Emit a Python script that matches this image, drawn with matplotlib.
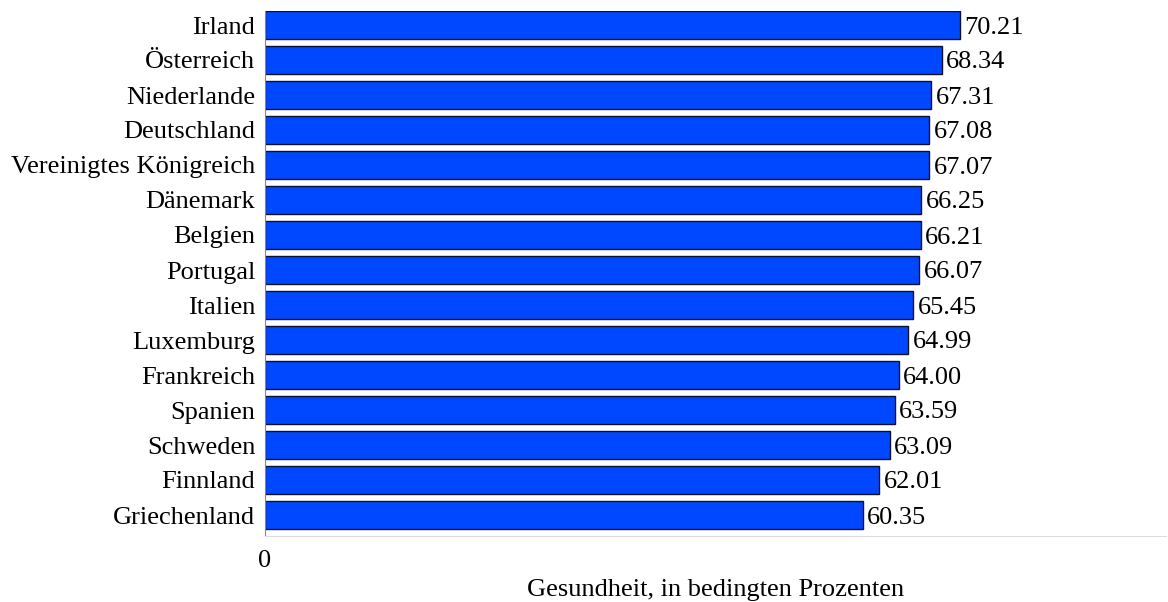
import numpy as np
import matplotlib.pyplot as plt

plt.rcParams['font.family'] = ['Liberation Serif', 'DejaVu Serif']

laender = ['Irland', 'Österreich', 'Niederlande', 'Deutschland', 'Vereinigtes Königreich',
           'Dänemark', 'Belgien', 'Portugal', 'Italien', 'Luxemburg', 'Frankreich',
           'Spanien', 'Schweden', 'Finnland', 'Griechenland']
werte = [70.21, 68.34, 67.31, 67.08, 67.07, 66.25, 66.21, 66.07, 65.45, 64.99,
         64.00, 63.59, 63.09, 62.01, 60.35]

fs = 19

fig = plt.figure(figsize=(11.68, 6.02), dpi=100)
ax = fig.add_axes([265 / 1168, 1 - 536 / 602, (1166 - 265) / 1168, (536 - 11) / 602])

y = np.arange(len(laender))
ax.barh(y, werte, height=0.8, color='#0048ff', edgecolor='#0a1030', linewidth=1)
for yi, w in zip(y, werte):
    ax.text(w + 0.45, yi, f'{w:.2f}', va='center_baseline', ha='left', fontsize=fs)

ax.set_ylim(14.6, -0.4)
ax.set_xlim(0, 91)
ax.set_yticks(y)
ax.set_yticklabels(laender, fontsize=fs)
ax.set_xticks([0])
ax.set_xticklabels(['0'], fontsize=fs)
ax.tick_params(axis='both', length=0)
ax.tick_params(axis='x', pad=10)
ax.tick_params(axis='y', pad=7)

ax.spines['top'].set_visible(False)
ax.spines['right'].set_visible(False)
ax.spines['left'].set_color('#888888')
ax.spines['bottom'].set_color('#dddddd')

ax.set_xlabel('Gesundheit, in bedingten Prozenten', fontsize=fs, labelpad=5)

fig.savefig('out.png', dpi=100)
